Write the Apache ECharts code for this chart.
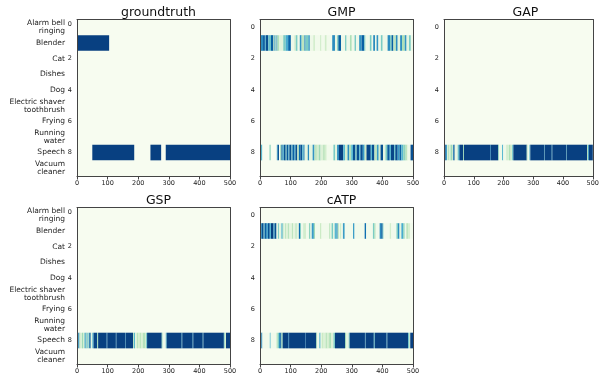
<!DOCTYPE html>
<html>
<head>
<meta charset="utf-8">
<script src="https://cdn.jsdelivr.net/npm/echarts@6/dist/echarts.min.js"></script>
<style>
  html, body { margin: 0; padding: 0; background: #fff; }
  #chart { width: 602px; height: 377px; }
</style>
</head>
<body>
<div id="chart"></div>
<script>
// row labels (left column only) and numeric row ticks
const classNames = ['Alarm bell\nringing', 'Blender', 'Cat', 'Dishes', 'Dog',
  'Electric shaver\ntoothbrush', 'Frying', 'Running\nwater', 'Speech', 'Vacuum\ncleaner']
const rowTicks = ['0', '1', '2', '3', '4', '5', '6', '7', '8', '9']
const panelTitles = ['groundtruth', 'GMP', 'GAP', 'GSP', 'cATP']

// activations as runs of frames: [start, end, value]  (rows not listed are 0)
const gtBlender = [[0, 105, 1]]
const gtSpeech = [[50, 187, 1], [240, 275, 1], [290, 500, 1]]

const gmpBlender = [[3,10,0.75],[10,16,0.92],[16,19,0.6],[19,27,0.95],[27,36,0.55],[36,44,0.9],[44,47,0.3],[47,51,0.7],
  [51,54,0.25],[54,57,0.75],[57,62,0.35],[62,76,0.12],[76,84,0.5],[84,92,0.65],[92,101,0.88],[101,112,0.05],[112,117,0.2],
  [117,123,0.5],[123,130,0.05],[130,136,0.72],[136,145,0.3],[145,149,0.75],[149,158,0.5],[158,163,0.72],[163,174,0.05],
  [174,180,0.2],[180,196,0.03],[196,201,0.2],[201,212,0.03],[212,218,0.22],[218,236,0.03],[236,245,0.75],[245,252,0.08],
  [252,256,0.5],[256,265,0.9],[265,278,0.05],[278,283,0.5],[283,294,0.05],[294,300,0.35],[300,309,0.05],[309,314,0.5],
  [314,324,0.05],[324,332,0.72],[332,341,0.9],[341,345,0.5],[345,359,0.05],[359,365,0.5],[365,370,0.05],[370,376,0.75],
  [376,381,0.05],[381,387,0.72],[387,395,0.05],[395,401,0.5],[401,417,0.05],[417,425,0.75],[425,430,0.5],[430,436,0.9],
  [436,444,0.3],[444,450,0.75],[450,458,0.1],[458,464,0.75],[464,473,0.35],[473,479,0.72],[479,487,0.1],[487,493,0.5],[493,500,0.05]]
const gmpSpeech = [[2,7,0.6],[31,35,0.45],[55,58,0.7],[58,62,0.95],[66,70,0.4],[70,74,0.9],[74,78,0.6],[78,84,0.95],
  [84,87,0.5],[87,93,0.92],[93,96,0.6],[96,103,0.95],[103,106,0.55],[106,112,0.9],[112,116,0.7],[116,122,0.95],[122,127,0.3],
  [127,132,0.85],[132,138,0.95],[138,142,0.6],[142,146,0.8],[146,156,0.1],[156,161,0.75],[161,172,0.1],[172,178,0.72],
  [178,186,0.3],[186,192,0.2],[192,198,0.4],[198,206,0.15],[206,212,0.3],[212,218,0.2],[218,240,0.03],[240,246,0.5],
  [246,252,0.1],[252,258,0.75],[258,272,1],[272,278,0.6],[278,286,0.2],[286,292,0.75],[292,298,0.35],[298,304,0.6],
  [304,312,0.95],[312,316,0.5],[316,324,0.95],[324,328,0.6],[328,336,0.95],[336,342,0.7],[342,348,0.25],[348,362,0.98],
  [362,366,0.6],[366,374,0.95],[374,382,0.3],[382,388,0.7],[388,394,0.2],[394,402,0.95],[402,410,0.1],[410,416,0.5],
  [416,424,0.92],[424,428,0.6],[428,438,0.98],[438,442,0.55],[442,450,0.95],[450,456,0.7],[456,462,0.9],[462,468,0.6],
  [468,476,0.45],[476,482,0.3],[482,492,0.05],[492,500,0.95]]

const gapSpeech = [[0,6,0.95],[6,10,0.7],[10,14,0.15],[14,18,0.35],[18,22,0.15],[22,27,0.4],[27,30,0.2],[30,33,0.8],
  [33,36,0.95],[36,46,0.08],[46,50,0.55],[50,53,0.85],[53,64,1],[64,67,0.4],[67,156,1],[156,158,0.85],[158,182,1],
  [182,185,0.45],[185,195,0.05],[195,199,0.6],[199,210,0.05],[210,214,0.3],[214,218,0.15],[218,224,0.35],[224,229,0.2],
  [229,233,0.55],[233,278,1],[278,281,0.4],[281,287,0.03],[287,290,0.6],[290,336,1],[336,338,0.6],[338,362,1],[362,364,0.7],
  [364,410,1],[410,412,0.6],[412,481,1],[481,484,0.35],[484,487,0.7],[487,500,1]]

const gspSpeech = [[0,4,0.6],[4,8,0.75],[8,12,0.3],[12,16,0.15],[16,20,0.4],[20,24,0.2],[24,28,0.55],[28,31,0.75],
  [31,34,0.35],[34,38,0.6],[38,40,0.3],[40,45,0.9],[45,50,0.1],[50,54,0.6],[54,66,0.98],[66,69,0.4],[69,97,1],[97,99,0.8],
  [99,127,1],[127,129,0.8],[129,157,1],[157,159,0.75],[159,183,1],[183,186,0.3],[186,190,0.6],[190,195,0.1],[195,200,0.3],
  [200,205,0.2],[205,210,0.3],[210,216,0.18],[216,222,0.35],[222,226,0.2],[226,229,0.55],[229,277,1],[277,280,0.45],
  [280,290,0.05],[290,293,0.6],[293,342,1],[342,344,0.7],[344,378,1],[378,380,0.7],[380,411,1],[411,413,0.6],[413,480,1],
  [480,483,0.5],[483,487,0.2],[487,500,1]]

const catpBlender = [[2,6,0.75],[6,12,0.95],[12,15,0.55],[15,22,0.9],[22,26,0.65],[26,32,0.95],[32,36,0.6],[36,44,1],
  [44,48,0.7],[48,54,0.95],[54,59,0.1],[59,62,0.5],[62,70,0.1],[70,74,0.65],[74,77,0.4],[77,82,0.1],[82,86,0.3],[86,92,0.15],
  [92,96,0.35],[96,104,0.1],[104,108,0.3],[108,116,0.1],[116,120,0.35],[120,127,0.1],[127,131,0.85],[131,134,0.5],
  [134,142,0.05],[142,146,0.3],[146,151,0.2],[151,160,0.03],[160,165,0.45],[165,169,0.05],[169,176,0.7],[176,180,0.4],
  [180,196,0.03],[196,201,0.25],[201,226,0.03],[226,230,0.3],[230,234,0.1],[234,239,0.5],[239,244,0.1],[244,250,0.6],
  [250,254,0.75],[254,258,0.3],[258,262,0.05],[262,266,0.25],[266,271,0.05],[271,277,0.7],[277,304,0.03],[304,309,0.7],
  [309,342,0.03],[342,347,0.85],[347,369,0.03],[369,374,0.5],[374,378,0.35],[378,391,0.03],[391,396,0.75],[396,401,0.9],
  [401,404,0.5],[404,424,0.03],[424,429,0.2],[429,446,0.03],[446,451,0.5],[451,456,0.75],[456,462,0.1],[462,468,0.65],
  [468,473,0.45],[473,478,0.05],[478,484,0.3],[484,490,0.2],[490,500,0.03]]
const catpSpeech = [[0,5,0.95],[5,8,0.7],[8,32,0.03],[32,35,0.6],[35,54,0.03],[54,58,0.3],[58,62,0.5],[62,66,0.75],
  [66,70,0.9],[70,74,0.4],[74,93,1],[93,95,0.85],[95,147,1],[147,149,0.85],[149,184,1],[184,187,0.4],[187,194,0.05],
  [194,198,0.65],[198,202,0.1],[202,208,0.25],[208,214,0.15],[214,220,0.3],[220,226,0.2],[226,232,0.35],[232,240,0.15],
  [240,245,0.5],[245,278,1],[278,282,0.4],[282,290,0.1],[290,293,0.55],[293,343,1],[343,345,0.6],[345,372,1],[372,375,0.55],
  [375,414,1],[414,416,0.6],[416,484,1],[484,488,0.55],[488,491,0.3],[491,500,1]]

// GnBu colour map
const gnbu = ['#f7fcf0', '#e0f3db', '#ccebc5', '#a8ddb5', '#7bccc4', '#4eb3d3', '#2b8cbe', '#0868ac', '#084081']

const FONT = 'DejaVu Sans'
const W = 153, H = 156.5
const frameLine = {show: true, onZero: false, lineStyle: {color: '#444', width: 1}}

const panels = [
  {rows: {1: gtBlender, 8: gtSpeech}, left: 77, top: 19.5, names: true},
  {rows: {1: gmpBlender, 8: gmpSpeech}, left: 260, top: 19.5},
  {rows: {8: gapSpeech}, left: 444, top: 19.5},
  {rows: {8: gspSpeech}, left: 77, top: 207.5, names: true},
  {rows: {1: catpBlender, 8: catpSpeech}, left: 260, top: 207.5}
]

function renderRun(params, api) {
  const a = api.coord([api.value(0), api.value(2)])
  const b = api.coord([api.value(1), api.value(2)])
  const h = api.size([0, 1])[1]
  return {
    type: 'rect',
    shape: {x: a[0], y: a[1] - h / 2, width: b[0] - a[0], height: h},
    style: {fill: api.visual('color')}
  }
}

const option = {
  animation: false,
  title: [], grid: [], xAxis: [], yAxis: [], series: [],
  visualMap: {
    type: 'continuous', show: false, dimension: 3, min: 0, max: 1,
    seriesIndex: [0, 1, 2, 3, 4],
    inRange: {color: gnbu}
  }
}

panels.forEach((p, i) => {
  option.title.push({
    text: panelTitles[i], left: p.left + W / 2, top: p.top - 18, textAlign: 'center',
    textStyle: {fontFamily: FONT, fontSize: 12.5, fontWeight: 'normal', color: '#111'}
  })
  option.grid.push({left: p.left, top: p.top, width: W, height: H, show: true,
    backgroundColor: gnbu[0], borderWidth: 0})

  const xi = option.xAxis.length
  option.xAxis.push({
    gridIndex: i, type: 'value', min: 0, max: 500, interval: 100, position: 'bottom', z: 5,
    axisLine: frameLine, splitLine: {show: false},
    axisTick: {show: true, length: 3.5, lineStyle: {color: '#444'}},
    axisLabel: {fontFamily: FONT, fontSize: 6.5, color: '#222', margin: 4}
  })
  option.xAxis.push({
    gridIndex: i, type: 'value', min: 0, max: 500, position: 'top', z: 5,
    axisLine: frameLine, splitLine: {show: false}, axisTick: {show: false}, axisLabel: {show: false}
  })

  const yi = option.yAxis.length
  option.yAxis.push({
    gridIndex: i, type: 'category', data: rowTicks, inverse: true, position: 'left', z: 5,
    axisLine: frameLine,
    axisTick: {alignWithLabel: true, interval: p.names ? 0 : 1, length: 3.5, lineStyle: {color: '#444'}},
    axisLabel: {
      interval: p.names ? 0 : 1, fontFamily: FONT, fontSize: 6.5, color: '#222', margin: 5,
      formatter: (v, idx) => {
        if (idx % 2) return ''
        return (p.names && idx === 0) ? '{up|' + v + '}' : v
      },
      rich: {up: {fontFamily: FONT, fontSize: 6.5, color: '#222', padding: [0, 0, 7, 0]}}
    }
  })
  option.yAxis.push({
    gridIndex: i, type: 'category', data: rowTicks, inverse: true, position: 'right', z: 5,
    axisLine: frameLine, axisTick: {show: false}, axisLabel: {show: false}
  })
  if (p.names) {
    option.yAxis.push({
      gridIndex: i, type: 'category', data: classNames, inverse: true, position: 'left',
      axisLine: {show: false}, axisTick: {show: false},
      axisLabel: {interval: 0, fontFamily: FONT, fontSize: 7.5, color: '#222', margin: 12, lineHeight: 8}
    })
  }

  const data = []
  Object.keys(p.rows).forEach(r => {
    p.rows[r].forEach(run => data.push([run[0], run[1], Number(r), run[2]]))
  })
  option.series.push({
    type: 'custom', xAxisIndex: xi, yAxisIndex: yi,
    dimensions: ['start', 'end', 'row', 'value'],
    encode: {x: [0, 1], y: 2},
    renderItem: renderRun,
    data: data
  })
})

const chart = echarts.init(document.getElementById('chart'))
chart.setOption(option)
</script>
</body>
</html>
